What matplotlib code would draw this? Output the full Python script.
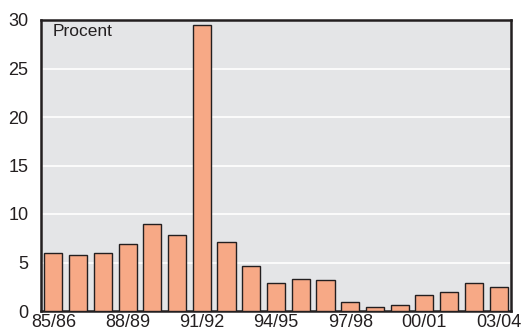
import numpy as np
import matplotlib.pyplot as plt

plt.rcParams['font.family'] = ['Liberation Sans', 'DejaVu Sans']

years = ["85/86", "86/87", "87/88", "88/89", "89/90", "90/91", "91/92", "92/93",
         "93/94", "94/95", "95/96", "96/97", "97/98", "98/99", "99/00", "00/01",
         "01/02", "02/03", "03/04"]
values = [6.0, 5.8, 6.0, 6.9, 9.0, 7.8, 29.5, 7.1, 4.6, 2.9, 3.3, 3.2,
          0.9, 0.45, 0.6, 1.6, 2.0, 2.9, 2.5]
yticks = [0, 5, 10, 15, 20, 25, 30]

fig = plt.figure(figsize=(5.22, 3.32), dpi=100)
ax = fig.add_axes([41/522, 1 - 311/332, 470/522, 291/332])
ax.set_facecolor("#e4e5e7")

x = np.arange(len(years))
ax.bar(x, values, width=0.73, color="#f7a986", edgecolor="#231f20", linewidth=1.0, zorder=3)

for v in yticks[1:-1]:
    ax.axhline(v, color="white", linewidth=1.2, zorder=1)

ax.set_xlim(-0.5, len(years) - 0.5)
ax.set_ylim(0, 30)
ax.set_yticks(yticks)
ax.set_xticks(x[::3])
ax.set_xticklabels(years[::3])
ax.tick_params(length=0, labelsize=13, colors="#231f20", pad=2)
ax.tick_params(axis="y", pad=9)

for s in ax.spines.values():
    s.set_linewidth(1.8)
    s.set_color("#231f20")

ax.text(0.024, 0.985, "Procent", transform=ax.transAxes, fontsize=12.5, va="top",
        ha="left", color="#231f20")

plt.savefig("out.png", dpi=100)
